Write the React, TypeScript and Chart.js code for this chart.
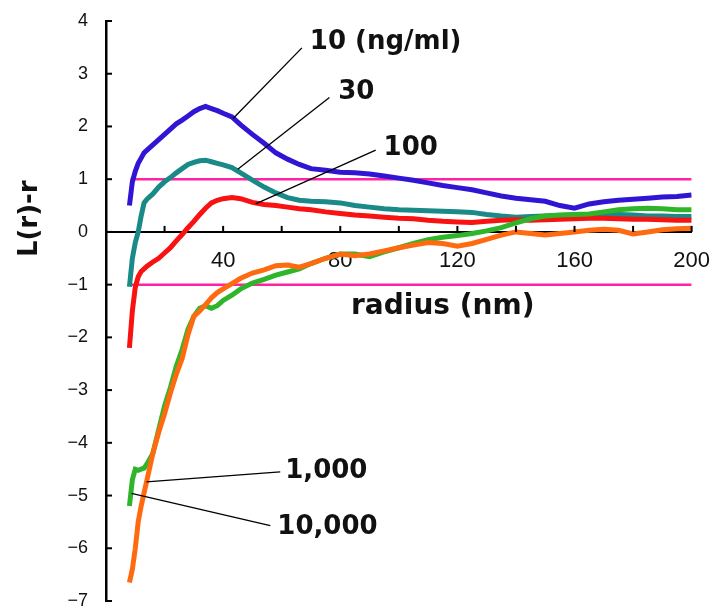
import React, { useEffect, useRef } from 'react';
import { Chart, registerables } from 'chart.js';

Chart.register(...registerables);

// radius (nm) sampling grid shared by all curves
const radius = [8, 9, 10, 11, 12, 13, 14, 16, 18, 20, 22, 24, 26, 28, 30, 32, 34, 36, 38, 40, 43, 46, 50, 54, 58, 62, 66, 70, 75, 80, 85, 90, 95, 100, 105, 110, 115, 120, 125, 130, 135, 140, 145, 150, 155, 160, 165, 170, 175, 180, 185, 190, 195, 200];

const conc10 = [0.5, 0.95, 1.15, 1.3, 1.4, 1.5, 1.55, 1.65, 1.75, 1.85, 1.95, 2.05, 2.12, 2.2, 2.28, 2.34, 2.38, 2.34, 2.3, 2.25, 2.18, 2.03, 1.85, 1.68, 1.5, 1.38, 1.28, 1.2, 1.17, 1.13, 1.12, 1.1, 1.06, 1.02, 0.98, 0.93, 0.88, 0.84, 0.8, 0.74, 0.68, 0.64, 0.61, 0.58, 0.5, 0.45, 0.53, 0.57, 0.6, 0.62, 0.64, 0.66, 0.67, 0.7];

const conc30 = [-1.04, -0.5, -0.2, 0.0, 0.3, 0.55, 0.62, 0.72, 0.85, 0.95, 1.03, 1.12, 1.2, 1.28, 1.32, 1.35, 1.36, 1.33, 1.3, 1.27, 1.22, 1.12, 0.98, 0.85, 0.74, 0.65, 0.6, 0.58, 0.57, 0.55, 0.5, 0.47, 0.44, 0.42, 0.41, 0.4, 0.39, 0.38, 0.37, 0.33, 0.3, 0.28, 0.29, 0.3, 0.31, 0.32, 0.32, 0.32, 0.33, 0.32, 0.3, 0.3, 0.29, 0.29];

const conc100 = [-2.2, -1.5, -1.05, -0.85, -0.75, -0.7, -0.65, -0.57, -0.5, -0.4, -0.3, -0.17, -0.05, 0.08, 0.2, 0.33, 0.45, 0.55, 0.6, 0.63, 0.65, 0.63, 0.56, 0.52, 0.5, 0.47, 0.44, 0.42, 0.38, 0.35, 0.32, 0.3, 0.28, 0.26, 0.25, 0.22, 0.2, 0.19, 0.18, 0.2, 0.22, 0.23, 0.22, 0.23, 0.24, 0.25, 0.26, 0.26, 0.25, 0.24, 0.24, 0.23, 0.22, 0.22];

const conc1000 = [-5.2, -4.7, -4.5, -4.52, -4.5, -4.48, -4.4, -4.2, -3.75, -3.3, -2.95, -2.55, -2.23, -1.85, -1.6, -1.45, -1.4, -1.45, -1.4, -1.3, -1.2, -1.08, -0.97, -0.9, -0.82, -0.76, -0.7, -0.6, -0.5, -0.42, -0.42, -0.47, -0.38, -0.3, -0.22, -0.15, -0.1, -0.07, -0.03, 0.02, 0.08, 0.17, 0.25, 0.3, 0.32, 0.33, 0.34, 0.38, 0.42, 0.44, 0.45, 0.44, 0.42, 0.42];

const conc10000 = [-6.65, -6.4, -6.0, -5.5, -5.2, -4.95, -4.7, -4.2, -3.8, -3.45, -3.05, -2.7, -2.4, -1.95, -1.6, -1.5, -1.38, -1.25, -1.15, -1.08, -0.98, -0.88, -0.78, -0.72, -0.64, -0.63, -0.67, -0.6, -0.5, -0.42, -0.45, -0.42, -0.36, -0.3, -0.25, -0.2, -0.22, -0.27, -0.22, -0.14, -0.06, 0.0, -0.03, -0.06, -0.03, 0.0, 0.03, 0.05, 0.03, -0.04, 0.0, 0.04, 0.06, 0.07];

// confidence envelope lines at L(r)-r = +1 / -1
const envelopeLevels = [1, -1];
const envelopeRange = [8.4, 200];

// axis ticks
const xTickValues = [20, 40, 60, 80, 100, 120, 140, 160, 180, 200];
const xTickLabels = [40, 80, 120, 160, 200];
const yTickValues = [4, 3, 2, 1, 0, -1, -2, -3, -4, -5, -6, -7];

// annotation labels and leader lines (data coordinates)
const labelTexts = ['10 (ng/ml)', '30', '100', '1,000', '10,000'];
const labelR = [69.6, 79.3, 94.8, 61.2, 58.5];
const labelL = [3.6, 2.64, 1.58, -4.53, -5.6];
const leaderFromR = [66.9, 76.3, 92.1, 59.5, 56.1];
const leaderFromL = [3.49, 2.55, 1.55, -4.55, -5.57];
const leaderToR = [43.4, 45.0, 51.1, 13.8, 8.7];
const leaderToL = [2.15, 1.19, 0.53, -4.74, -4.96];

const fmtMinus = (v: number) => (v < 0 ? '\u2212' + Math.abs(v) : String(v));

export default function App() {
  const ref = useRef<HTMLCanvasElement | null>(null);

  useEffect(() => {
    document.body.style.margin = '0';
    const canvas = ref.current;
    if (!canvas) return;
    const pts = (vals: number[]) => radius.map((r, i) => ({ x: r, y: vals[i] }));
    const series = [
      { data: conc10000, color: '#ff6a10' },
      { data: conc1000, color: '#2fb52a' },
      { data: conc100, color: '#f81212' },
      { data: conc30, color: '#1a8a88' },
      { data: conc10, color: '#3016d4' },
    ];
    const datasets: any[] = series.map((s) => ({
      data: pts(s.data),
      borderColor: s.color,
      borderWidth: 5,
      pointRadius: 0,
      tension: 0,
      fill: false,
    }));
    envelopeLevels.forEach((lv) => {
      datasets.push({
        data: envelopeRange.map((r) => ({ x: r, y: lv })),
        borderColor: '#ff22a2',
        borderWidth: 2.5,
        pointRadius: 0,
        fill: false,
      });
    });

    const overlay = {
      id: 'overlay',
      afterDatasetsDraw(chart: any) {
        const { ctx, scales } = chart;
        const xs = scales.x;
        const ys = scales.y;
        ctx.save();
        // inward ticks
        ctx.strokeStyle = '#000';
        ctx.lineWidth = 2;
        const x0 = xs.getPixelForValue(0);
        const y0 = ys.getPixelForValue(0);
        yTickValues.forEach((v) => {
          const py = ys.getPixelForValue(v);
          ctx.beginPath();
          ctx.moveTo(x0, py);
          ctx.lineTo(x0 + 6, py);
          ctx.stroke();
        });
        xTickValues.forEach((v) => {
          const px = xs.getPixelForValue(v);
          ctx.beginPath();
          ctx.moveTo(px, y0);
          ctx.lineTo(px, y0 - 6);
          ctx.stroke();
        });
        // leader lines
        ctx.lineWidth = 1.3;
        for (let i = 0; i < labelTexts.length; i++) {
          ctx.beginPath();
          ctx.moveTo(xs.getPixelForValue(leaderFromR[i]), ys.getPixelForValue(leaderFromL[i]));
          ctx.lineTo(xs.getPixelForValue(leaderToR[i]), ys.getPixelForValue(leaderToL[i]));
          ctx.stroke();
        }
        // labels
        ctx.fillStyle = '#111';
        ctx.font = 'bold 26px "DejaVu Sans"';
        ctx.textAlign = 'left';
        ctx.textBaseline = 'middle';
        for (let i = 0; i < labelTexts.length; i++) {
          ctx.fillText(labelTexts[i], xs.getPixelForValue(labelR[i]), ys.getPixelForValue(labelL[i]));
        }
        // axis titles
        ctx.font = 'bold 28px "DejaVu Sans"';
        ctx.textAlign = 'center';
        ctx.fillText('radius (nm)', xs.getPixelForValue(115), ys.getPixelForValue(-1.42));
        ctx.save();
        ctx.translate(30, ys.getPixelForValue(0.25));
        ctx.rotate(-Math.PI / 2);
        ctx.font = 'bold 26px "DejaVu Sans"';
        ctx.fillText('L(r)-r', 0, 0);
        ctx.restore();
        ctx.restore();
      },
    };

    const chart = new Chart(canvas, {
      type: 'line',
      data: { datasets },
      options: {
        responsive: false,
        animation: false,
        events: [],
        layout: { padding: { top: 21, bottom: 9, left: 0, right: 25 } },
        plugins: { legend: { display: false }, tooltip: { enabled: false } },
        scales: {
          x: {
            type: 'linear',
            min: 0,
            max: 200,
            position: { y: 0 } as any,
            grid: { drawOnChartArea: false, drawTicks: false },
            border: { display: true, color: '#000', width: 2 },
            afterBuildTicks: (s: any) => {
              s.ticks = xTickLabels.map((v) => ({ value: v }));
            },
            ticks: {
              autoSkip: false,
              maxRotation: 0,
              padding: 16,
              color: '#111',
              font: { family: '"Liberation Sans"', size: 22 },
              callback: (v: any) => String(v),
            },
          },
          y: {
            type: 'linear',
            min: -7,
            max: 4,
            position: 'left',
            grid: { drawOnChartArea: false, drawTicks: false },
            border: { display: true, color: '#000', width: 2.5 },
            afterBuildTicks: (s: any) => {
              s.ticks = yTickValues.map((v) => ({ value: v }));
            },
            afterFit: (s: any) => {
              s.width = 106;
              s.paddingTop = 0;
              s.paddingBottom = 0;
            },
            ticks: {
              autoSkip: false,
              padding: 18,
              color: '#111',
              font: { family: '"Liberation Sans"', size: 18 },
              callback: (v: any) => fmtMinus(Number(v)),
            },
          },
        },
      },
      plugins: [overlay],
    } as any);

    return () => chart.destroy();
  }, []);

  return (
    <div style={{ position: 'relative', width: 726, height: 610, background: '#fff' }}>
      <canvas ref={ref} width={726} height={610} style={{ display: 'block', width: 726, height: 610 }} />
    </div>
  );
}
